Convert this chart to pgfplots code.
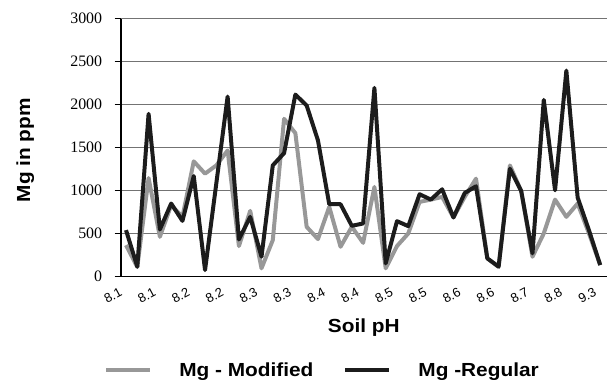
\documentclass[border=0pt]{standalone}
\usepackage{fontspec}
\setmainfont{Liberation Serif}
\setsansfont{Liberation Sans}
\newfontfamily\labfont[FakeStretch=1.1]{Liberation Sans}
\newfontfamily\numfont{Liberation Serif}
\usepackage{pgfplots}
\pgfplotsset{compat=1.18}
\definecolor{modgray}{RGB}{152,152,152}
\definecolor{regblack}{RGB}{28,28,28}
\definecolor{gridgray}{RGB}{115,115,115}
\begin{document}
\begin{tikzpicture}
\path[use as bounding box] (-120.7bp,-106.5bp) rectangle (487.3bp,276.5bp);
\begin{axis}[
  scale only axis,
  width=486.3bp, height=257.8bp,
  xmin=-0.47, xmax=42.6,
  ymin=0, ymax=3000,
  axis x line=bottom, axis y line=left,
  axis line style={-, line width=1.8pt, black},
  ytick={0,500,...,3000},
  yticklabel={\numfont\pgfmathprintnumber[assume math mode=true,1000 sep={}]{\tick}},
  xtick={0,3,...,42},
  xticklabels={8.1,8.1,8.2,8.2,8.3,8.3,8.4,8.4,8.5,8.5,8.6,8.6,8.7,8.8,9.3},
  x tick style={draw=none},
  y tick style={black, line width=0.8pt},
  major tick length=6bp,
  tick align=outside,
  ymajorgrids,
  grid style={gridgray, line width=1.1pt},
  /pgf/number format/assume math mode=true,
  /pgf/number format/1000 sep={},
  yticklabel style={font=\numfont\fontsize{16}{16}\selectfont, xshift=-9bp},
  xticklabel style={font=\sffamily\fontsize{13}{13}\selectfont, rotate=28, anchor=north east, xshift=-5bp, yshift=3bp},
  xlabel={Soil pH},
  ylabel={Mg in ppm},
  x label style={font=\labfont\bfseries\fontsize{19}{20}\selectfont, at={(axis description cs:0.5,0)}, anchor=center, yshift=-51.5bp},
  y label style={font=\labfont\bfseries\fontsize{19}{20}\selectfont, at={(axis description cs:0,0.49)}, anchor=center, yshift=95.5bp},
  legend columns=2,
  legend style={draw=none, fill=none, at={(axis description cs:0.413,0)}, anchor=center, yshift=-93.5bp,
    font=\labfont\bfseries\fontsize{19}{20}\selectfont,
    /tikz/every even column/.append style={column sep=30bp},
    nodes={inner sep=0pt, text depth=0pt}},
  legend image code/.code={\draw[#1] (0bp,0bp) -- (44bp,0bp);},
  legend cell align=left,
]
\addplot[modgray, line width=4pt, line join=round] coordinates {
(0,365)(1,110)(2,1146)(3,462)(4,830)(5,694)(6,1340)(7,1197)(8,1293)(9,1467)
(10,354)(11,764)(12,95)(13,423)(14,1835)(15,1668)(16,578)(17,435)(18,810)(19,346)
(20,578)(21,392)(22,1042)(23,95)(24,354)(25,501)(26,868)(27,895)(28,926)(29,687)
(30,926)(31,1139)(32,211)(33,114)(34,1293)(35,995)(36,230)(37,501)(38,895)(39,694)
(40,849)(41,501)(42,133)};
\addlegendentry{\hspace{27bp}Mg - Modified}
\addplot[regblack, line width=4pt, line join=round] coordinates {
(0,540)(1,114)(2,1893)(3,547)(4,849)(5,647)(6,1169)(7,75)(8,1085)(9,2094)
(10,431)(11,694)(12,230)(13,1293)(14,1436)(15,2117)(16,1990)(17,1584)(18,841)(19,841)
(20,590)(21,617)(22,2195)(23,153)(24,644)(25,586)(26,957)(27,895)(28,1015)(29,687)
(30,972)(31,1050)(32,211)(33,114)(34,1255)(35,995)(36,269)(37,2055)(38,1003)(39,2396)
(40,919)(41,539)(42,133)};
\addlegendentry{\hspace{27bp}Mg -Regular}
\end{axis}
\end{tikzpicture}
\end{document}
